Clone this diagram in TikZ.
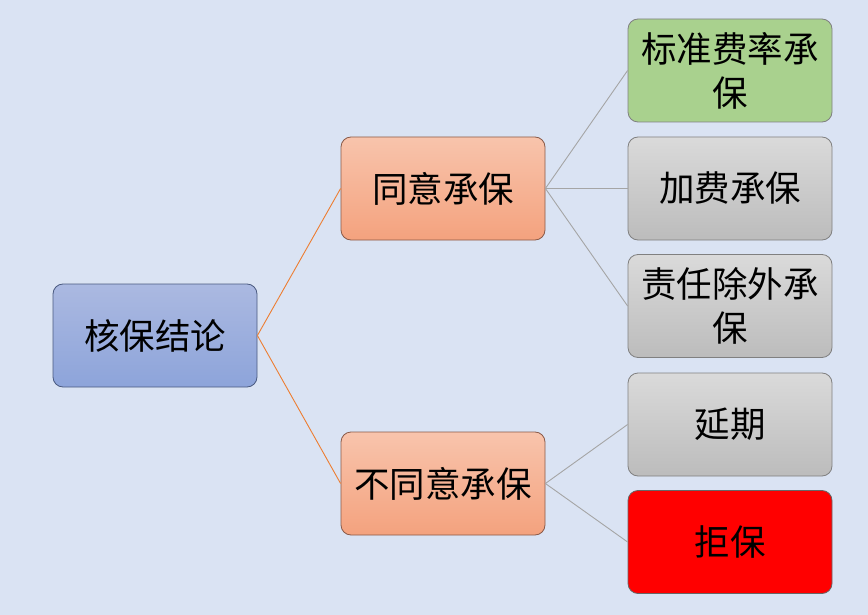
\documentclass[tikz,border=0pt]{standalone}
\usepackage{fontspec}
\setmainfont{Noto Sans CJK SC}
\begin{document}
\begin{tikzpicture}[x=1pt,y=-1pt,
  box/.style={draw=#1, line width=0.8pt, rounded corners=10pt, minimum width=204pt, minimum height=103pt,
    inner sep=0pt, align=center, font=\fontsize{35.5}{44}\selectfont, text=black},
  rootbox/.style={box=rootD, top color=rootT, bottom color=rootB},
  midbox/.style={box=midD, top color=midT, bottom color=midB},
  greenbox/.style={box=black!50, fill=leafG},
  graybox/.style={box=black!50, top color=grayT, bottom color=grayB},
  redbox/.style={box=black!60, fill=red},
  olink/.style={draw=linkO, line width=0.9pt},
  glink/.style={draw=linkG, line width=0.9pt}]
\definecolor{bg}{HTML}{DAE3F3}
\definecolor{rootT}{HTML}{ABB9E1}
\definecolor{rootB}{HTML}{8DA4DA}
\definecolor{rootD}{HTML}{4A5A80}
\definecolor{midT}{HTML}{F8C4AC}
\definecolor{midB}{HTML}{F4A27E}
\definecolor{midD}{HTML}{8A5A48}
\definecolor{leafG}{HTML}{A9D18E}
\definecolor{grayT}{HTML}{DADADA}
\definecolor{grayB}{HTML}{BCBCBC}
\definecolor{linkO}{HTML}{ED7D31}
\definecolor{linkG}{HTML}{A5A5A5}
\fill[bg] (0,0) rectangle (868,615);
\useasboundingbox (0,0) rectangle (868,615);
\node[rootbox] (root) at (155,335.5) {核保结论};
\node[midbox] (agree) at (443,188.5) {同意承保};
\node[midbox] (disagree) at (443,483.5) {不同意承保};
\node[greenbox] (std) at (730,70.5) {标准费率承\\保};
\node[graybox] (extra) at (730,188.5) {加费承保};
\node[graybox] (excl) at (730,306) {责任除外承\\保};
\node[graybox] (delay) at (730,424.5) {延期};
\node[redbox] (reject) at (730,542) {拒保};
\draw[olink] (root.east) -- (agree.west);
\draw[olink] (root.east) -- (disagree.west);
\draw[glink] (agree.east) -- (std.west);
\draw[glink] (agree.east) -- (extra.west);
\draw[glink] (agree.east) -- (excl.west);
\draw[glink] (disagree.east) -- (delay.west);
\draw[glink] (disagree.east) -- (reject.west);
\end{tikzpicture}
\end{document}
